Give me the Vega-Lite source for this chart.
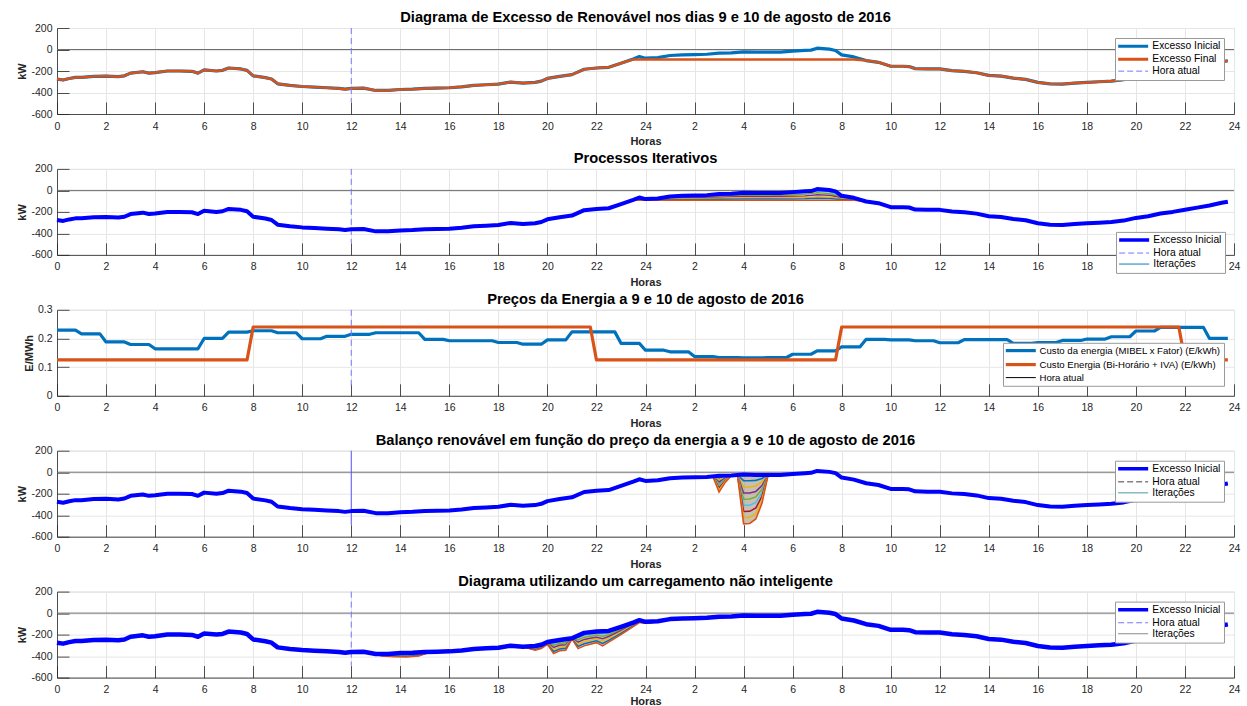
{
  "$schema": "https://vega.github.io/schema/vega-lite/v6.json",
  "background": "white",
  "padding": {"left": 16, "top": 9, "right": 10, "bottom": 0},
  "spacing": 2.9,
  "config": {
    "font": "Liberation Sans",
    "view": {"stroke": "#d4d4d4", "strokeWidth": 1},
    "title": {"fontSize": 14.7, "fontWeight": "bold", "color": "#000000", "offset": -2, "anchor": "middle"},
    "axis": {"labelFontSize": 10.5, "labelColor": "#262626", "labelOverlap": false, "labelBound": false, "titleFontSize": 11, "titleFontWeight": "bold", "titleColor": "#262626", "domainColor": "#262626", "domainWidth": 0.8, "tickColor": "#262626", "tickSize": -12, "tickWidth": 0.8, "labelPadding": 19, "titlePadding": 4, "gridColor": "#e6e6e6", "gridWidth": 1},
    "axisX": {"labelFlush": false},
    "axisY": {"labelPadding": 17, "titlePadding": 3, "labelOverlap": false},
    "legend": {"labelFontSize": 10.3, "labelColor": "#000000", "labelLimit": 400, "symbolType": "M-1,0H5", "symbolSize": 100, "labelOffset": 24, "fillColor": "white", "strokeColor": "#9a9a9a", "padding": 3, "rowPadding": 0, "offset": 10, "cornerRadius": 0, "symbolStrokeWidth": 2.5}
  },
  "resolve": {
    "scale": {"color": "independent", "stroke": "independent", "x": "independent", "y": "independent"},
    "legend": {"color": "independent"}
  },
  "datasets": {
    "ex": [
      {"h":0,"ini":-275,"fin":-275},{"h":0.25,"ini":-284,"fin":-284},{"h":0.5,"ini":-270,"fin":-270},{"h":0.75,"ini":-260,"fin":-260},{"h":1,"ini":-260,"fin":-260},{"h":1.5,"ini":-250,"fin":-250},{"h":2,"ini":-247,"fin":-247},{"h":2.5,"ini":-253,"fin":-253},{"h":2.75,"ini":-245,"fin":-245},{"h":3,"ini":-220,"fin":-220},{"h":3.5,"ini":-207,"fin":-207},{"h":3.75,"ini":-220,"fin":-220},{"h":4,"ini":-215,"fin":-215},{"h":4.5,"ini":-200,"fin":-200},{"h":5,"ini":-200,"fin":-200},{"h":5.5,"ini":-203,"fin":-203},{"h":5.75,"ini":-220,"fin":-220},{"h":6,"ini":-190,"fin":-190},{"h":6.5,"ini":-200,"fin":-200},{"h":6.75,"ini":-194,"fin":-194},{"h":7,"ini":-172,"fin":-172},{"h":7.5,"ini":-181,"fin":-181},{"h":7.75,"ini":-194,"fin":-194},{"h":8,"ini":-245,"fin":-245},{"h":8.5,"ini":-262,"fin":-262},{"h":8.75,"ini":-275,"fin":-275},{"h":9,"ini":-319,"fin":-319},{"h":9.5,"ini":-334,"fin":-334},{"h":10,"ini":-344,"fin":-344},{"h":10.5,"ini":-350,"fin":-350},{"h":11,"ini":-356,"fin":-356},{"h":11.5,"ini":-362,"fin":-362},{"h":11.75,"ini":-369,"fin":-369},{"h":12,"ini":-362,"fin":-362},{"h":12.5,"ini":-359,"fin":-359},{"h":13,"ini":-381,"fin":-381},{"h":13.5,"ini":-381,"fin":-381},{"h":14,"ini":-372,"fin":-372},{"h":14.5,"ini":-369,"fin":-369},{"h":15,"ini":-362,"fin":-362},{"h":15.5,"ini":-359,"fin":-359},{"h":16,"ini":-356,"fin":-356},{"h":16.5,"ini":-347,"fin":-347},{"h":17,"ini":-334,"fin":-334},{"h":17.5,"ini":-328,"fin":-328},{"h":18,"ini":-322,"fin":-322},{"h":18.5,"ini":-303,"fin":-303},{"h":19,"ini":-312,"fin":-312},{"h":19.5,"ini":-306,"fin":-306},{"h":19.75,"ini":-294,"fin":-294},{"h":20,"ini":-269,"fin":-269},{"h":20.5,"ini":-250,"fin":-250},{"h":21,"ini":-234,"fin":-234},{"h":21.5,"ini":-184,"fin":-184},{"h":22,"ini":-172,"fin":-172},{"h":22.5,"ini":-166,"fin":-166},{"h":23,"ini":-128,"fin":-128},{"h":23.5,"ini":-88,"fin":-92},{"h":23.75,"ini":-66,"fin":-92},{"h":24,"ini":-81,"fin":-92},{"h":24.5,"ini":-75,"fin":-92},{"h":25,"ini":-56,"fin":-92},{"h":25.5,"ini":-50,"fin":-92},{"h":26,"ini":-47,"fin":-92},{"h":26.5,"ini":-44,"fin":-92},{"h":27,"ini":-34,"fin":-92},{"h":27.5,"ini":-31,"fin":-92},{"h":28,"ini":-22,"fin":-92},{"h":28.5,"ini":-25,"fin":-92},{"h":29,"ini":-25,"fin":-92},{"h":29.5,"ini":-25,"fin":-92},{"h":30,"ini":-16,"fin":-92},{"h":30.5,"ini":-9,"fin":-92},{"h":30.75,"ini":-6,"fin":-92},{"h":31,"ini":12,"fin":-92},{"h":31.5,"ini":3,"fin":-92},{"h":31.75,"ini":-9,"fin":-92},{"h":32,"ini":-50,"fin":-92},{"h":32.5,"ini":-69,"fin":-92},{"h":33,"ini":-103,"fin":-103},{"h":33.5,"ini":-119,"fin":-119},{"h":34,"ini":-156,"fin":-156},{"h":34.5,"ini":-156,"fin":-156},{"h":34.75,"ini":-159,"fin":-159},{"h":35,"ini":-178,"fin":-178},{"h":35.5,"ini":-181,"fin":-181},{"h":36,"ini":-181,"fin":-181},{"h":36.5,"ini":-197,"fin":-197},{"h":37,"ini":-203,"fin":-203},{"h":37.5,"ini":-216,"fin":-216},{"h":38,"ini":-241,"fin":-241},{"h":38.5,"ini":-247,"fin":-247},{"h":39,"ini":-266,"fin":-266},{"h":39.5,"ini":-278,"fin":-278},{"h":40,"ini":-306,"fin":-306},{"h":40.5,"ini":-319,"fin":-319},{"h":41,"ini":-322,"fin":-322},{"h":41.5,"ini":-312,"fin":-312},{"h":42,"ini":-306,"fin":-306},{"h":42.5,"ini":-300,"fin":-300},{"h":43,"ini":-294,"fin":-294},{"h":43.5,"ini":-281,"fin":-281},{"h":44,"ini":-256,"fin":-256},{"h":44.5,"ini":-240,"fin":-240},{"h":45,"ini":-215,"fin":-215},{"h":45.5,"ini":-200,"fin":-200},{"h":46,"ini":-180,"fin":-180},{"h":46.5,"ini":-160,"fin":-160},{"h":47,"ini":-140,"fin":-140},{"h":47.5,"ini":-115,"fin":-115},{"h":47.75,"ini":-105,"fin":-105}
    ],
    "it2": [
      {"h":23.5,"i1":-89,"i2":-89,"i3":-90,"i4":-91,"i5":-91,"i6":-92},
      {"h":23.75,"i1":-70,"i2":-75,"i3":-79,"i4":-83,"i5":-88,"i6":-92},
      {"h":24,"i1":-83,"i2":-85,"i3":-87,"i4":-88,"i5":-90,"i6":-92},
      {"h":24.5,"i1":-78,"i2":-81,"i3":-84,"i4":-86,"i5":-89,"i6":-92},
      {"h":25,"i1":-62,"i2":-68,"i3":-74,"i4":-80,"i5":-86,"i6":-92},
      {"h":26,"i1":-55,"i2":-62,"i3":-70,"i4":-77,"i5":-84,"i6":-92},
      {"h":27,"i1":-44,"i2":-53,"i3":-63,"i4":-73,"i5":-82,"i6":-92},
      {"h":28,"i1":-34,"i2":-45,"i3":-57,"i4":-69,"i5":-80,"i6":-92},
      {"h":29,"i1":-36,"i2":-47,"i3":-59,"i4":-70,"i5":-81,"i6":-92},
      {"h":30,"i1":-29,"i2":-41,"i3":-54,"i4":-67,"i5":-79,"i6":-92},
      {"h":30.5,"i1":-23,"i2":-36,"i3":-51,"i4":-65,"i5":-78,"i6":-92},
      {"h":31,"i1":-6,"i2":-22,"i3":-40,"i4":-58,"i5":-74,"i6":-92},
      {"h":31.5,"i1":-13,"i2":-28,"i3":-45,"i4":-61,"i5":-76,"i6":-92},
      {"h":32,"i1":-57,"i2":-64,"i3":-71,"i4":-78,"i5":-85,"i6":-92},
      {"h":32.5,"i1":-73,"i2":-77,"i3":-81,"i4":-84,"i5":-88,"i6":-92},
      {"h":33,"i1":-103,"i2":-103,"i3":-103,"i4":-103,"i5":-103,"i6":-103}
    ],
    "it4": [
      {"h":26.75,"ini":-39,"d1":-39,"d2":-39,"d3":-39,"d4":-39,"d5":-39,"d6":-39,"d7":-39,"d8":-39},
      {"h":27,"ini":-34,"d1":-53,"d2":-72,"d3":-91,"d4":-110,"d5":-128,"d6":-147,"d7":-166,"d8":-185},
      {"h":27.25,"ini":-32,"d1":-40,"d2":-48,"d3":-56,"d4":-64,"d5":-71,"d6":-79,"d7":-87,"d8":-95},
      {"h":27.5,"ini":-31,"d1":-31,"d2":-31,"d3":-31,"d4":-31,"d5":-31,"d6":-31,"d7":-31,"d8":-31},
      {"h":27.75,"ini":-26,"d1":-26,"d2":-26,"d3":-26,"d4":-26,"d5":-26,"d6":-26,"d7":-26,"d8":-26},
      {"h":28,"ini":-22,"d1":-79,"d2":-137,"d3":-194,"d4":-251,"d5":-308,"d6":-366,"d7":-423,"d8":-480},
      {"h":28.25,"ini":-23,"d1":-80,"d2":-137,"d3":-193,"d4":-250,"d5":-307,"d6":-364,"d7":-420,"d8":-477},
      {"h":28.5,"ini":-25,"d1":-76,"d2":-128,"d3":-179,"d4":-230,"d5":-281,"d6":-333,"d7":-384,"d8":-435},
      {"h":28.75,"ini":-25,"d1":-58,"d2":-91,"d3":-124,"d4":-158,"d5":-191,"d6":-224,"d7":-257,"d8":-290},
      {"h":29,"ini":-25,"d1":-25,"d2":-25,"d3":-25,"d4":-25,"d5":-25,"d6":-25,"d7":-25,"d8":-25}
    ],
    "it5": [
      {"h":12.75,"seg":"a","ini":-370,"j1":-370,"j2":-370,"j3":-370,"j4":-370,"j5":-370,"j6":-370},
      {"h":13.25,"seg":"a","ini":-381,"j1":-384,"j2":-387,"j3":-389,"j4":-392,"j5":-395,"j6":-398},
      {"h":13.75,"seg":"a","ini":-377,"j1":-382,"j2":-386,"j3":-391,"j4":-396,"j5":-400,"j6":-405},
      {"h":14.25,"seg":"a","ini":-371,"j1":-377,"j2":-383,"j3":-390,"j4":-396,"j5":-402,"j6":-408},
      {"h":14.75,"seg":"a","ini":-366,"j1":-372,"j2":-377,"j3":-383,"j4":-389,"j5":-394,"j6":-400},
      {"h":15.25,"seg":"a","ini":-361,"j1":-361,"j2":-361,"j3":-361,"j4":-361,"j5":-361,"j6":-361},
      {"h":19,"seg":"b","ini":-312,"j1":-312,"j2":-312,"j3":-312,"j4":-312,"j5":-312,"j6":-312},
      {"h":19.25,"seg":"b","ini":-309,"j1":-313,"j2":-316,"j3":-320,"j4":-323,"j5":-327,"j6":-330},
      {"h":19.5,"seg":"b","ini":-306,"j1":-313,"j2":-319,"j3":-326,"j4":-332,"j5":-339,"j6":-345},
      {"h":19.75,"seg":"b","ini":-294,"j1":-300,"j2":-306,"j3":-312,"j4":-318,"j5":-324,"j6":-330},
      {"h":20,"seg":"b","ini":-269,"j1":-273,"j2":-276,"j3":-280,"j4":-283,"j5":-287,"j6":-290},
      {"h":20.25,"seg":"b","ini":-260,"j1":-280,"j2":-299,"j3":-319,"j4":-338,"j5":-358,"j6":-377},
      {"h":20.5,"seg":"b","ini":-250,"j1":-267,"j2":-283,"j3":-300,"j4":-317,"j5":-333,"j6":-350},
      {"h":20.75,"seg":"b","ini":-242,"j1":-259,"j2":-276,"j3":-294,"j4":-311,"j5":-328,"j6":-345},
      {"h":21,"seg":"b","ini":-234,"j1":-235,"j2":-236,"j3":-237,"j4":-238,"j5":-239,"j6":-240},
      {"h":21.25,"seg":"b","ini":-209,"j1":-229,"j2":-249,"j3":-270,"j4":-290,"j5":-310,"j6":-330},
      {"h":21.5,"seg":"b","ini":-184,"j1":-204,"j2":-224,"j3":-245,"j4":-265,"j5":-285,"j6":-305},
      {"h":21.75,"seg":"b","ini":-178,"j1":-197,"j2":-215,"j3":-234,"j4":-253,"j5":-271,"j6":-290},
      {"h":22,"seg":"b","ini":-172,"j1":-189,"j2":-206,"j3":-224,"j4":-241,"j5":-258,"j6":-275},
      {"h":22.25,"seg":"b","ini":-169,"j1":-192,"j2":-215,"j3":-238,"j4":-260,"j5":-283,"j6":-306},
      {"h":22.5,"seg":"b","ini":-166,"j1":-183,"j2":-201,"j3":-218,"j4":-235,"j5":-253,"j6":-270},
      {"h":23,"seg":"b","ini":-128,"j1":-140,"j2":-152,"j3":-164,"j4":-176,"j5":-188,"j6":-200},
      {"h":23.5,"seg":"b","ini":-88,"j1":-94,"j2":-100,"j3":-107,"j4":-113,"j5":-119,"j6":-125},
      {"h":23.75,"seg":"b","ini":-66,"j1":-70,"j2":-73,"j3":-77,"j4":-81,"j5":-84,"j6":-88},
      {"h":24,"seg":"b","ini":-81,"j1":-83,"j2":-86,"j3":-88,"j4":-90,"j5":-93,"j6":-95},
      {"h":24.25,"seg":"b","ini":-78,"j1":-80,"j2":-82,"j3":-84,"j4":-86,"j5":-88,"j6":-90},
      {"h":24.5,"seg":"b","ini":-75,"j1":-75,"j2":-75,"j3":-75,"j4":-75,"j5":-75,"j6":-75}
    ],
    "pm": [
      {"h":0,"m":0.229},{"h":0.75,"m":0.229},{"h":1,"m":0.216},{"h":1.75,"m":0.216},{"h":2,"m":0.188},{"h":2.75,"m":0.188},{"h":3,"m":0.179},{"h":3.75,"m":0.179},{"h":4,"m":0.164},{"h":4.75,"m":0.164},{"h":5,"m":0.164},{"h":5.75,"m":0.164},{"h":6,"m":0.2},{"h":6.75,"m":0.2},{"h":7,"m":0.222},{"h":7.75,"m":0.222},{"h":8,"m":0.227},{"h":8.75,"m":0.227},{"h":9,"m":0.22},{"h":9.75,"m":0.22},{"h":10,"m":0.199},{"h":10.75,"m":0.199},{"h":11,"m":0.2075},{"h":11.75,"m":0.2075},{"h":12,"m":0.2145},{"h":12.75,"m":0.2145},{"h":13,"m":0.22},{"h":13.75,"m":0.22},{"h":14,"m":0.22},{"h":14.75,"m":0.22},{"h":15,"m":0.197},{"h":15.75,"m":0.197},{"h":16,"m":0.192},{"h":16.75,"m":0.192},{"h":17,"m":0.192},{"h":17.75,"m":0.192},{"h":18,"m":0.186},{"h":18.75,"m":0.186},{"h":19,"m":0.18},{"h":19.75,"m":0.18},{"h":20,"m":0.195},{"h":20.75,"m":0.195},{"h":21,"m":0.223},{"h":21.75,"m":0.223},{"h":22,"m":0.223},{"h":22.75,"m":0.223},{"h":23,"m":0.183},{"h":23.75,"m":0.183},{"h":24,"m":0.159},{"h":24.75,"m":0.159},{"h":25,"m":0.1535},{"h":25.75,"m":0.1535},{"h":26,"m":0.137},{"h":26.75,"m":0.137},{"h":27,"m":0.133},{"h":27.75,"m":0.133},{"h":28,"m":0.132},{"h":28.75,"m":0.132},{"h":29,"m":0.1335},{"h":29.75,"m":0.1335},{"h":30,"m":0.145},{"h":30.75,"m":0.145},{"h":31,"m":0.157},{"h":31.75,"m":0.157},{"h":32,"m":0.171},{"h":32.75,"m":0.171},{"h":33,"m":0.197},{"h":33.75,"m":0.197},{"h":34,"m":0.195},{"h":34.75,"m":0.195},{"h":35,"m":0.192},{"h":35.75,"m":0.192},{"h":36,"m":0.185},{"h":36.75,"m":0.185},{"h":37,"m":0.196},{"h":37.75,"m":0.196},{"h":38,"m":0.196},{"h":38.75,"m":0.196},{"h":39,"m":0.183},{"h":39.75,"m":0.183},{"h":40,"m":0.186},{"h":40.75,"m":0.186},{"h":41,"m":0.193},{"h":41.75,"m":0.193},{"h":42,"m":0.198},{"h":42.75,"m":0.198},{"h":43,"m":0.206},{"h":43.75,"m":0.206},{"h":44,"m":0.226},{"h":44.75,"m":0.226},{"h":45,"m":0.239},{"h":45.75,"m":0.239},{"h":46,"m":0.239},{"h":46.75,"m":0.239},{"h":47,"m":0.2},{"h":47.75,"m":0.2}
    ],
    "pb": [
      {"h":0,"b":0.125},{"h":7.75,"b":0.125},{"h":8,"b":0.24},{"h":21.75,"b":0.24},{"h":22,"b":0.125},{"h":31.75,"b":0.125},{"h":32,"b":0.24},{"h":45.75,"b":0.24},{"h":46,"b":0.125},{"h":47.75,"b":0.125}
    ]
  },
  "vconcat": [
    {
      "title": "Diagrama de Excesso de Renovável nos dias 9 e 10 de agosto de 2016",
      "width": 1177, "height": 86,
      "layer": [
        {"data": {"values": [{}]}, "mark": {"type": "rule", "color": "#6e6e6e", "strokeWidth": 1},
         "encoding": {"y": {"datum": 0, "type": "quantitative", "scale": {"domain": [-600, 200], "nice": false, "zero": false}, "axis": {"values": [-600,-400,-200,0,200], "labelExpr": "'' + datum.value", "labelOverlap": false, "title": "kW", "grid": true}}}},
        {"data": {"name": "ex"}, "mark": {"type": "line", "strokeWidth": 3.2, "strokeJoin": "round"},
         "encoding": {
           "x": {"field": "h", "type": "quantitative", "scale": {"domain": [0, 48], "nice": false, "zero": false}, "axis": {"values": [0,2,4,6,8,10,12,14,16,18,20,22,24,26,28,30,32,34,36,38,40,42,44,46,48], "labelExpr": "datum.value == 0 ? '0' : '' + ((datum.value - 1) % 24 + 1)", "title": "Horas", "grid": true}},
           "y": {"field": "ini", "type": "quantitative", "scale": {"domain": [-600, 200], "nice": false, "zero": false}, "axis": {"values": [-600,-400,-200,0,200], "labelExpr": "'' + datum.value", "labelOverlap": false, "title": "kW", "grid": true}},
           "color": {"datum": "Excesso Inicial", "scale": {"domain": ["Excesso Inicial", "Excesso Final", "Hora atual"], "range": ["#0072BD", "#D95319", "#7777FF"]},
             "legend": {"title": null, "orient": "top-right", "encode": {"symbols": {"update": {"strokeWidth": {"signal": "datum.value === 'Hora atual' ? 1 : 3"}, "strokeDash": {"signal": "datum.value === 'Hora atual' ? [6,3] : [1,0]"}}}}}}
         }},
        {"data": {"name": "ex"}, "mark": {"type": "line", "strokeWidth": 2.5, "strokeJoin": "round"},
         "encoding": {
           "x": {"field": "h", "type": "quantitative", "scale": {"domain": [0, 48], "nice": false, "zero": false}, "axis": {"values": [0,2,4,6,8,10,12,14,16,18,20,22,24,26,28,30,32,34,36,38,40,42,44,46,48], "labelExpr": "datum.value == 0 ? '0' : '' + ((datum.value - 1) % 24 + 1)", "title": "Horas", "grid": true}},
           "y": {"field": "fin", "type": "quantitative", "scale": {"domain": [-600, 200], "nice": false, "zero": false}, "axis": {"values": [-600,-400,-200,0,200], "labelExpr": "'' + datum.value", "labelOverlap": false, "title": "kW", "grid": true}},
           "color": {"datum": "Excesso Final"}
         }},
        {"data": {"values": [{}]}, "mark": {"type": "rule", "strokeWidth": 1, "strokeDash": [6, 4]},
         "encoding": {"x": {"datum": 12, "type": "quantitative", "scale": {"domain": [0, 48], "nice": false, "zero": false}, "axis": {"values": [0,2,4,6,8,10,12,14,16,18,20,22,24,26,28,30,32,34,36,38,40,42,44,46,48], "labelExpr": "datum.value == 0 ? '0' : '' + ((datum.value - 1) % 24 + 1)", "title": "Horas", "grid": true}}, "y": {"datum": 200, "type": "quantitative", "scale": {"domain": [-600, 200], "nice": false, "zero": false}, "axis": {"values": [-600,-400,-200,0,200], "labelExpr": "'' + datum.value", "labelOverlap": false, "title": "kW", "grid": true}}, "y2": {"datum": -490}, "color": {"datum": "Hora atual"}}}
      ]
    },
    {
      "title": "Processos Iterativos",
      "width": 1177, "height": 86,
      "layer": [
        {"data": {"values": [{}]}, "mark": {"type": "rule", "color": "#6e6e6e", "strokeWidth": 1},
         "encoding": {"y": {"datum": 0, "type": "quantitative", "scale": {"domain": [-600, 200], "nice": false, "zero": false}, "axis": {"values": [-600,-400,-200,0,200], "labelExpr": "'' + datum.value", "labelOverlap": false, "title": "kW", "grid": true}}}},
        {"data": {"name": "it2"}, "transform": [{"fold": ["i1","i2","i3","i4","i5","i6"], "as": ["k", "v"]}],
         "mark": {"type": "line", "strokeWidth": 1.5},
         "encoding": {
           "x": {"field": "h", "type": "quantitative", "scale": {"domain": [0, 48], "nice": false, "zero": false}, "axis": {"values": [0,2,4,6,8,10,12,14,16,18,20,22,24,26,28,30,32,34,36,38,40,42,44,46,48], "labelExpr": "datum.value == 0 ? '0' : '' + ((datum.value - 1) % 24 + 1)", "title": "Horas", "grid": true}},
           "y": {"field": "v", "type": "quantitative", "scale": {"domain": [-600, 200], "nice": false, "zero": false}, "axis": {"values": [-600,-400,-200,0,200], "labelExpr": "'' + datum.value", "labelOverlap": false, "title": "kW", "grid": true}},
           "stroke": {"field": "k", "type": "nominal", "scale": {"domain": ["i1","i2","i3","i4","i5","i6"], "range": ["#4DBEEE","#77AC30","#7E2F8E","#EDB120","#0072BD","#D95319"]}, "legend": null}
         }},
        {"data": {"values": [{}]}, "mark": {"type": "rule", "strokeWidth": 1, "strokeDash": [6, 4]},
         "encoding": {"x": {"datum": 12, "type": "quantitative", "scale": {"domain": [0, 48], "nice": false, "zero": false}, "axis": {"values": [0,2,4,6,8,10,12,14,16,18,20,22,24,26,28,30,32,34,36,38,40,42,44,46,48], "labelExpr": "datum.value == 0 ? '0' : '' + ((datum.value - 1) % 24 + 1)", "title": "Horas", "grid": true}}, "y": {"datum": 200, "type": "quantitative", "scale": {"domain": [-600, 200], "nice": false, "zero": false}, "axis": {"values": [-600,-400,-200,0,200], "labelExpr": "'' + datum.value", "labelOverlap": false, "title": "kW", "grid": true}}, "y2": {"datum": -490}, "color": {"datum": "Hora atual"}}},
        {"data": {"name": "ex"}, "mark": {"type": "line", "strokeWidth": 4, "strokeJoin": "round"},
         "encoding": {
           "x": {"field": "h", "type": "quantitative", "scale": {"domain": [0, 48], "nice": false, "zero": false}, "axis": {"values": [0,2,4,6,8,10,12,14,16,18,20,22,24,26,28,30,32,34,36,38,40,42,44,46,48], "labelExpr": "datum.value == 0 ? '0' : '' + ((datum.value - 1) % 24 + 1)", "title": "Horas", "grid": true}},
           "y": {"field": "ini", "type": "quantitative", "scale": {"domain": [-600, 200], "nice": false, "zero": false}, "axis": {"values": [-600,-400,-200,0,200], "labelExpr": "'' + datum.value", "labelOverlap": false, "title": "kW", "grid": true}},
           "color": {"datum": "Excesso Inicial", "scale": {"domain": ["Excesso Inicial", "Hora atual", "Iterações"], "range": ["#0000FF", "#7777FF", "#0072BD"]},
             "legend": {"title": null, "orient": "none", "legendX": 1059, "legendY": 63, "encode": {"symbols": {"update": {"strokeWidth": {"signal": "datum.value === 'Excesso Inicial' ? 3.5 : 1"}, "strokeDash": {"signal": "datum.value === 'Hora atual' ? [6,3] : [1,0]"}}}}}}
         }}
      ]
    },
    {
      "title": "Preços da Energia a 9 e 10 de agosto de 2016",
      "width": 1177, "height": 86,
      "layer": [
        {"data": {"name": "pm"}, "mark": {"type": "line", "strokeWidth": 3.2, "strokeJoin": "round"},
         "encoding": {
           "x": {"field": "h", "type": "quantitative", "scale": {"domain": [0, 48], "nice": false, "zero": false}, "axis": {"values": [0,2,4,6,8,10,12,14,16,18,20,22,24,26,28,30,32,34,36,38,40,42,44,46,48], "labelExpr": "datum.value == 0 ? '0' : '' + ((datum.value - 1) % 24 + 1)", "title": "Horas", "grid": true}},
           "y": {"field": "m", "type": "quantitative", "scale": {"domain": [0, 0.3], "nice": false, "zero": false}, "axis": {"values": [0, 0.1, 0.2, 0.3], "format": "~g", "labelOverlap": false, "title": "E/MWh", "grid": true}},
           "color": {"datum": "Custo da energia (MIBEL x Fator) (E/kWh)", "scale": {"domain": ["Custo da energia (MIBEL x Fator) (E/kWh)", "Custo Energia (Bi-Horário + IVA) (E/kWh)", "Hora atual"], "range": ["#0072BD", "#D95319", "#000000"]},
             "legend": {"title": null, "orient": "bottom-right", "labelFontSize": 9.6, "encode": {"symbols": {"update": {"strokeWidth": {"signal": "datum.value === 'Hora atual' ? 1 : 3.2"}}}}}}
         }},
        {"data": {"name": "pb"}, "mark": {"type": "line", "strokeWidth": 3.2, "strokeJoin": "round"},
         "encoding": {
           "x": {"field": "h", "type": "quantitative", "scale": {"domain": [0, 48], "nice": false, "zero": false}, "axis": {"values": [0,2,4,6,8,10,12,14,16,18,20,22,24,26,28,30,32,34,36,38,40,42,44,46,48], "labelExpr": "datum.value == 0 ? '0' : '' + ((datum.value - 1) % 24 + 1)", "title": "Horas", "grid": true}},
           "y": {"field": "b", "type": "quantitative", "scale": {"domain": [0, 0.3], "nice": false, "zero": false}, "axis": {"values": [0, 0.1, 0.2, 0.3], "format": "~g", "labelOverlap": false, "title": "E/MWh", "grid": true}},
           "color": {"datum": "Custo Energia (Bi-Horário + IVA) (E/kWh)"}
         }},
        {"data": {"values": [{}]}, "mark": {"type": "rule", "strokeWidth": 1, "strokeDash": [6, 4], "color": "#7777FF"},
         "encoding": {"x": {"datum": 12, "type": "quantitative", "scale": {"domain": [0, 48], "nice": false, "zero": false}, "axis": {"values": [0,2,4,6,8,10,12,14,16,18,20,22,24,26,28,30,32,34,36,38,40,42,44,46,48], "labelExpr": "datum.value == 0 ? '0' : '' + ((datum.value - 1) % 24 + 1)", "title": "Horas", "grid": true}}, "y": {"datum": 0.3, "type": "quantitative", "scale": {"domain": [0, 0.3], "nice": false, "zero": false}, "axis": {"values": [0, 0.1, 0.2, 0.3], "format": "~g", "labelOverlap": false, "title": "E/MWh", "grid": true}}, "y2": {"datum": 0.02}}}
      ]
    },
    {
      "title": "Balanço renovável em função do preço da energia a 9 e 10 de agosto de 2016",
      "width": 1177, "height": 86,
      "layer": [
        {"data": {"values": [{}]}, "mark": {"type": "rule", "color": "#6e6e6e", "strokeWidth": 1},
         "encoding": {"y": {"datum": 0, "type": "quantitative", "scale": {"domain": [-600, 200], "nice": false, "zero": false}, "axis": {"values": [-600,-400,-200,0,200], "labelExpr": "'' + datum.value", "labelOverlap": false, "title": "kW", "grid": true}}}},
        {"data": {"values": [{}]}, "mark": {"type": "rule", "strokeWidth": 1, "color": "#5555FF"},
         "encoding": {"x": {"datum": 12, "type": "quantitative", "scale": {"domain": [0, 48], "nice": false, "zero": false}, "axis": {"values": [0,2,4,6,8,10,12,14,16,18,20,22,24,26,28,30,32,34,36,38,40,42,44,46,48], "labelExpr": "datum.value == 0 ? '0' : '' + ((datum.value - 1) % 24 + 1)", "title": "Horas", "grid": true}}, "y": {"datum": 200, "type": "quantitative", "scale": {"domain": [-600, 200], "nice": false, "zero": false}, "axis": {"values": [-600,-400,-200,0,200], "labelExpr": "'' + datum.value", "labelOverlap": false, "title": "kW", "grid": true}}, "y2": {"datum": -490}}},
        {"data": {"name": "it4"}, "mark": {"type": "area", "color": "#9a8e72", "opacity": 0.55},
         "encoding": {"x": {"field": "h", "type": "quantitative", "scale": {"domain": [0, 48], "nice": false, "zero": false}, "axis": {"values": [0,2,4,6,8,10,12,14,16,18,20,22,24,26,28,30,32,34,36,38,40,42,44,46,48], "labelExpr": "datum.value == 0 ? '0' : '' + ((datum.value - 1) % 24 + 1)", "title": "Horas", "grid": true}}, "y": {"field": "ini", "type": "quantitative", "scale": {"domain": [-600, 200], "nice": false, "zero": false}, "axis": {"values": [-600,-400,-200,0,200], "labelExpr": "'' + datum.value", "labelOverlap": false, "title": "kW", "grid": true}}, "y2": {"field": "d8"}}},
        {"data": {"name": "it4"}, "transform": [{"fold": ["d1","d2","d3","d4","d5","d6","d7","d8"], "as": ["k", "v"]}],
         "mark": {"type": "line", "strokeWidth": 1.6},
         "encoding": {
           "x": {"field": "h", "type": "quantitative", "scale": {"domain": [0, 48], "nice": false, "zero": false}, "axis": {"values": [0,2,4,6,8,10,12,14,16,18,20,22,24,26,28,30,32,34,36,38,40,42,44,46,48], "labelExpr": "datum.value == 0 ? '0' : '' + ((datum.value - 1) % 24 + 1)", "title": "Horas", "grid": true}},
           "y": {"field": "v", "type": "quantitative", "scale": {"domain": [-600, 200], "nice": false, "zero": false}, "axis": {"values": [-600,-400,-200,0,200], "labelExpr": "'' + datum.value", "labelOverlap": false, "title": "kW", "grid": true}},
           "stroke": {"field": "k", "type": "nominal", "scale": {"domain": ["d1","d2","d3","d4","d5","d6","d7","d8"], "range": ["#0072BD","#EDB120","#7E2F8E","#77AC30","#4DBEEE","#A2142F","#EDB120","#D95319"]}, "legend": null}
         }},
        {"data": {"name": "ex"}, "mark": {"type": "line", "strokeWidth": 4, "strokeJoin": "round"},
         "encoding": {
           "x": {"field": "h", "type": "quantitative", "scale": {"domain": [0, 48], "nice": false, "zero": false}, "axis": {"values": [0,2,4,6,8,10,12,14,16,18,20,22,24,26,28,30,32,34,36,38,40,42,44,46,48], "labelExpr": "datum.value == 0 ? '0' : '' + ((datum.value - 1) % 24 + 1)", "title": "Horas", "grid": true}},
           "y": {"field": "ini", "type": "quantitative", "scale": {"domain": [-600, 200], "nice": false, "zero": false}, "axis": {"values": [-600,-400,-200,0,200], "labelExpr": "'' + datum.value", "labelOverlap": false, "title": "kW", "grid": true}},
           "color": {"datum": "Excesso Inicial", "scale": {"domain": ["Excesso Inicial", "Hora atual", "Iterações"], "range": ["#0000FF", "#404040", "#3a8fa0"]},
             "legend": {"title": null, "orient": "top-right", "encode": {"symbols": {"update": {"strokeWidth": {"signal": "datum.value === 'Excesso Inicial' ? 3.5 : 1"}, "strokeDash": {"signal": "datum.value === 'Hora atual' ? [6,3] : [1,0]"}}}}}}
         }}
      ]
    },
    {
      "title": "Diagrama utilizando um carregamento não inteligente",
      "width": 1177, "height": 86,
      "layer": [
        {"data": {"values": [{}]}, "mark": {"type": "rule", "color": "#6e6e6e", "strokeWidth": 1},
         "encoding": {"y": {"datum": 0, "type": "quantitative", "scale": {"domain": [-600, 200], "nice": false, "zero": false}, "axis": {"values": [-600,-400,-200,0,200], "labelExpr": "'' + datum.value", "labelOverlap": false, "title": "kW", "grid": true}}}},
        {"data": {"values": [{}]}, "mark": {"type": "rule", "strokeWidth": 1, "strokeDash": [6, 4], "color": "#7777FF"},
         "encoding": {"x": {"datum": 12, "type": "quantitative", "scale": {"domain": [0, 48], "nice": false, "zero": false}, "axis": {"values": [0,2,4,6,8,10,12,14,16,18,20,22,24,26,28,30,32,34,36,38,40,42,44,46,48], "labelExpr": "datum.value == 0 ? '0' : '' + ((datum.value - 1) % 24 + 1)", "title": "Horas", "titlePadding": 0, "grid": true}}, "y": {"datum": 200, "type": "quantitative", "scale": {"domain": [-600, 200], "nice": false, "zero": false}, "axis": {"values": [-600,-400,-200,0,200], "labelExpr": "'' + datum.value", "labelOverlap": false, "title": "kW", "grid": true}}, "y2": {"datum": -490}}},
        {"data": {"name": "it5"}, "mark": {"type": "area", "color": "#9a8e72", "opacity": 0.5},
         "encoding": {"x": {"field": "h", "type": "quantitative", "scale": {"domain": [0, 48], "nice": false, "zero": false}, "axis": {"values": [0,2,4,6,8,10,12,14,16,18,20,22,24,26,28,30,32,34,36,38,40,42,44,46,48], "labelExpr": "datum.value == 0 ? '0' : '' + ((datum.value - 1) % 24 + 1)", "title": "Horas", "titlePadding": 0, "grid": true}}, "y": {"field": "ini", "type": "quantitative", "scale": {"domain": [-600, 200], "nice": false, "zero": false}, "axis": {"values": [-600,-400,-200,0,200], "labelExpr": "'' + datum.value", "labelOverlap": false, "title": "kW", "grid": true}}, "y2": {"field": "j6"}, "detail": {"field": "seg"}}},
        {"data": {"name": "it5"}, "transform": [{"fold": ["j1","j2","j3","j4","j5","j6"], "as": ["k", "v"]}],
         "mark": {"type": "line", "strokeWidth": 1.5},
         "encoding": {
           "x": {"field": "h", "type": "quantitative", "scale": {"domain": [0, 48], "nice": false, "zero": false}, "axis": {"values": [0,2,4,6,8,10,12,14,16,18,20,22,24,26,28,30,32,34,36,38,40,42,44,46,48], "labelExpr": "datum.value == 0 ? '0' : '' + ((datum.value - 1) % 24 + 1)", "title": "Horas", "titlePadding": 0, "grid": true}},
           "y": {"field": "v", "type": "quantitative", "scale": {"domain": [-600, 200], "nice": false, "zero": false}, "axis": {"values": [-600,-400,-200,0,200], "labelExpr": "'' + datum.value", "labelOverlap": false, "title": "kW", "grid": true}},
           "detail": {"field": "seg"},
           "stroke": {"field": "k", "type": "nominal", "scale": {"domain": ["j1","j2","j3","j4","j5","j6"], "range": ["#4DBEEE","#77AC30","#7E2F8E","#EDB120","#0072BD","#D95319"]}, "legend": null}
         }},
        {"data": {"name": "ex"}, "mark": {"type": "line", "strokeWidth": 4.5, "strokeJoin": "round"},
         "encoding": {
           "x": {"field": "h", "type": "quantitative", "scale": {"domain": [0, 48], "nice": false, "zero": false}, "axis": {"values": [0,2,4,6,8,10,12,14,16,18,20,22,24,26,28,30,32,34,36,38,40,42,44,46,48], "labelExpr": "datum.value == 0 ? '0' : '' + ((datum.value - 1) % 24 + 1)", "title": "Horas", "titlePadding": 0, "grid": true}},
           "y": {"field": "ini", "type": "quantitative", "scale": {"domain": [-600, 200], "nice": false, "zero": false}, "axis": {"values": [-600,-400,-200,0,200], "labelExpr": "'' + datum.value", "labelOverlap": false, "title": "kW", "grid": true}},
           "color": {"datum": "Excesso Inicial", "scale": {"domain": ["Excesso Inicial", "Hora atual", "Iterações"], "range": ["#0000FF", "#7777FF", "#808080"]},
             "legend": {"title": null, "orient": "top-right", "encode": {"symbols": {"update": {"strokeWidth": {"signal": "datum.value === 'Excesso Inicial' ? 3.5 : 1"}, "strokeDash": {"signal": "datum.value === 'Hora atual' ? [6,3] : [1,0]"}}}}}}
         }}
      ]
    }
  ]
}
